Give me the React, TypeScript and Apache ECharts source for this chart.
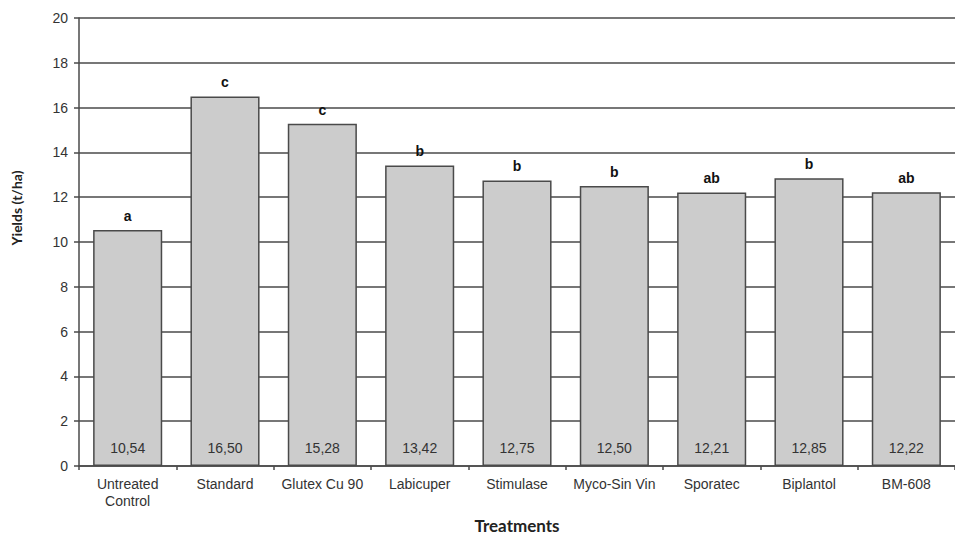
import React, { useEffect, useRef } from "react";
import * as echarts from "echarts";

const categories = [
  "Untreated\nControl",
  "Standard",
  "Glutex Cu 90",
  "Labicuper",
  "Stimulase",
  "Myco-Sin Vin",
  "Sporatec",
  "Biplantol",
  "BM-608",
];
const yields = [10.54, 16.5, 15.28, 13.42, 12.75, 12.5, 12.21, 12.85, 12.22];
const letters = ["a", "c", "c", "b", "b", "b", "ab", "b", "ab"];

export default function App() {
  const ref = useRef<HTMLDivElement>(null);
  useEffect(() => {
    if (!ref.current) return;
    const chart = echarts.init(ref.current, undefined, { renderer: "svg" });
    chart.setOption({
      animation: false,
      grid: { left: 79, top: 18, width: 879, height: 448, containLabel: false },
      xAxis: {
        type: "category",
        data: categories,
        axisLine: { lineStyle: { color: "#4a4a4a", width: 1.5 } },
        axisTick: { show: true, length: 4, lineStyle: { color: "#4a4a4a", width: 1.5 } },
        axisLabel: {
          color: "#333",
          fontFamily: "Liberation Sans, Arial, sans-serif",
          fontSize: 14,
          margin: 9,
          lineHeight: 17,
          interval: 0,
        },
      },
      yAxis: {
        type: "value",
        min: 0,
        max: 20,
        interval: 2,
        axisLine: { show: true, lineStyle: { color: "#4a4a4a", width: 1.5 } },
        axisTick: { show: true, inside: false, length: 5, lineStyle: { color: "#4a4a4a", width: 1.5 } },
        splitLine: { lineStyle: { color: "#4a4a4a", width: 1.5 } },
        axisLabel: {
          color: "#333",
          fontFamily: "Liberation Sans, Arial, sans-serif",
          fontSize: 14,
          margin: 11,
        },
      },
      series: [
        {
          type: "bar",
          data: yields,
          barCategoryGap: "29%",
          itemStyle: { color: "#cccccc", borderColor: "#4a4a4a", borderWidth: 1.5 },
          label: {
            show: true,
            position: "insideBottom",
            distance: 11,
            color: "#333",
            fontFamily: "Liberation Sans, Arial, sans-serif",
            fontSize: 14,
            formatter: (p: any) => p.value.toFixed(2).replace(".", ","),
          },
          z: 2,
        },
        {
          type: "bar",
          data: yields,
          barGap: "-100%",
          barCategoryGap: "29%",
          itemStyle: { color: "transparent", borderWidth: 0 },
          label: {
            show: true,
            position: "top",
            distance: 7,
            color: "#111",
            fontWeight: "bold",
            fontFamily: "Liberation Sans, Arial, sans-serif",
            fontSize: 14,
            formatter: (p: any) => letters[p.dataIndex],
          },
          silent: true,
          z: 3,
        },
      ],
      graphic: [
        {
          type: "text",
          x: 16,
          y: 208,
          rotation: Math.PI / 2,
          style: {
            text: "Yields (t/ha)",
            fill: "#222",
            font: "bold 14px Lato, 'Open Sans', sans-serif",
            align: "center",
            verticalAlign: "middle",
          },
        },
        {
          type: "text",
          x: 517,
          y: 525,
          style: {
            text: "Treatments",
            fill: "#222",
            font: "bold 17px Lato, 'Open Sans', sans-serif",
            align: "center",
            verticalAlign: "middle",
          },
        },
      ],
    });
    return () => chart.dispose();
  }, []);
  return <div ref={ref} style={{ width: 955, height: 536, position: "absolute", left: 0, top: 0 }} />;
}
